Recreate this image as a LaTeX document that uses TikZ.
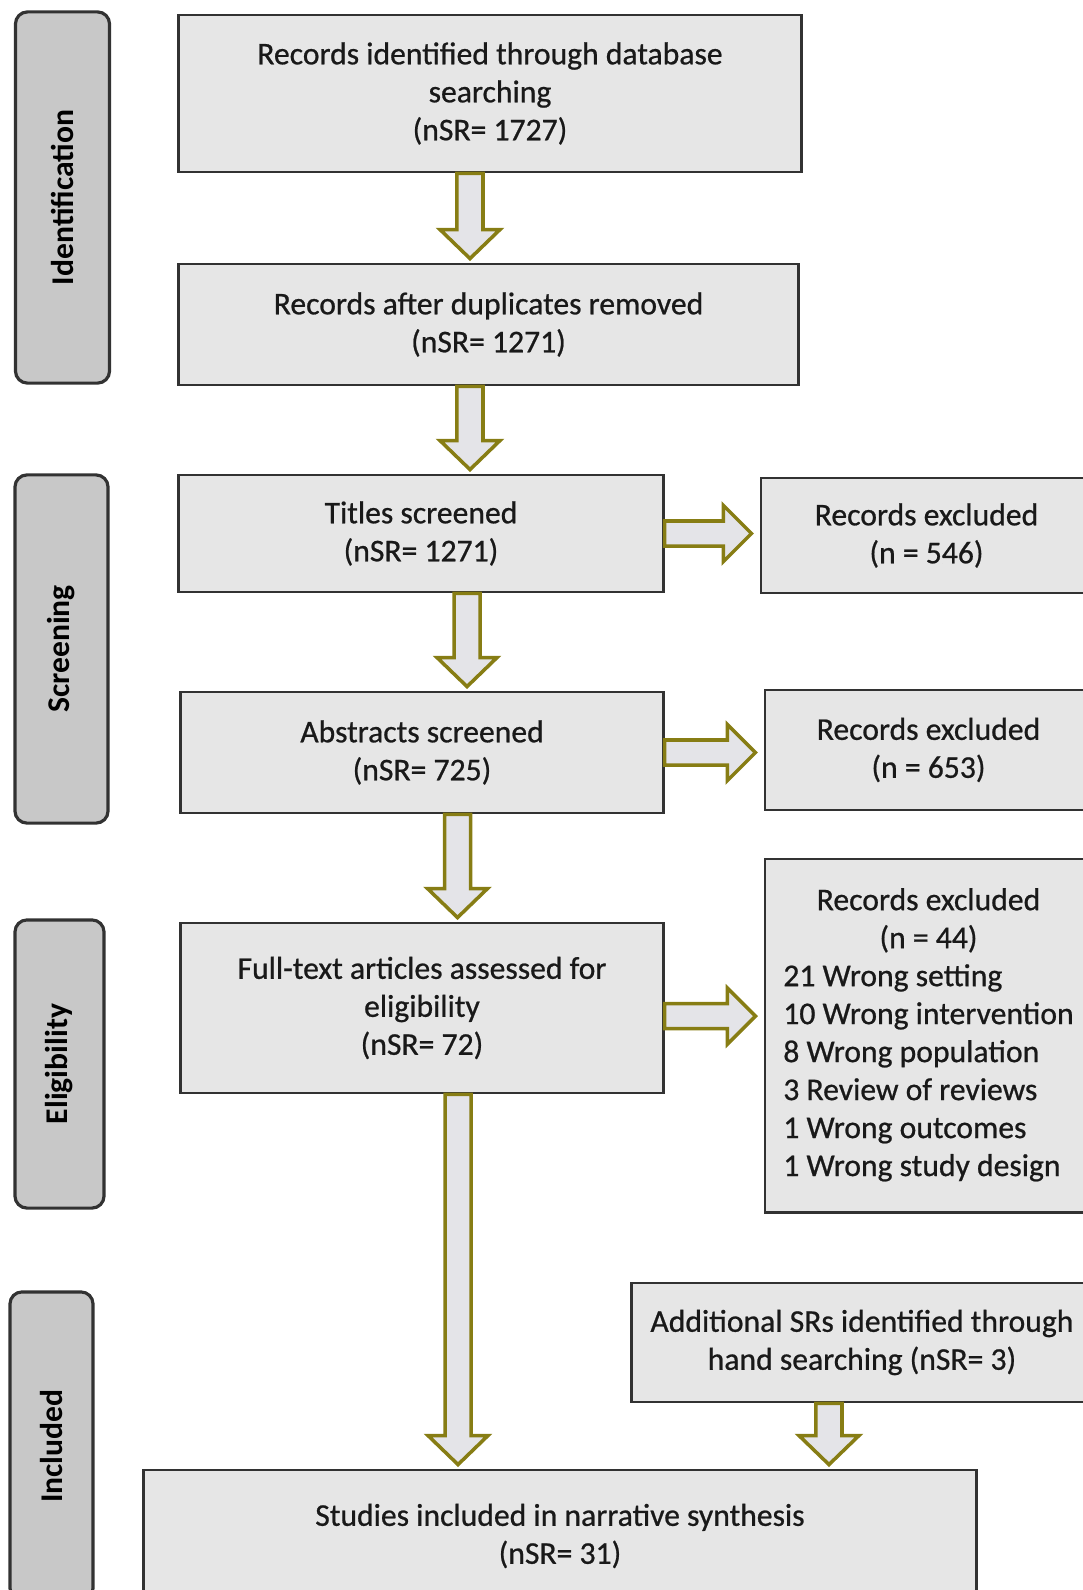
\documentclass[tikz,border=0pt]{standalone}
\usepackage{fontspec}
\setmainfont{Carlito}
\newfontfamily\boxfont{Carlito}[FakeBold=0.7]
\definecolor{boxgray}{RGB}{230,230,230}
\definecolor{phasegray}{RGB}{200,200,200}
\definecolor{edgegray}{RGB}{50,50,50}
\definecolor{arrowolive}{RGB}{135,125,20}
\definecolor{arrowfill}{RGB}{228,228,232}
\usetikzlibrary{positioning, calc}

\tikzset{
  stagebox/.style={draw=edgegray, fill=boxgray, line width=0.8pt, align=center,
                   inner sep=2pt, text=black!90, font=\boxfont\fontsize{9}{10.8}\selectfont},
  phasebox/.style={draw=edgegray, fill=phasegray, line width=0.9pt, rotate=90,
                   rounded corners=0.12cm, font=\bfseries\fontsize{9}{10}\selectfont},
  blockarrow/.style={draw=arrowolive, fill=arrowfill, line width=1pt, line join=miter}
}

% downward block arrow: from node, to node, xshift of the shaft
\newcommand{\vblock}[3]{%
  \draw[blockarrow] let \p1=([xshift=#3]#1.south), \p2=(#2.north) in
    (\x1-0.13cm,\y1) -- (\x1-0.13cm,\y2+0.33cm) -- (\x1-0.30cm,\y2+0.33cm)
    -- (\x1,\y2+0.04cm) -- (\x1+0.30cm,\y2+0.33cm) -- (\x1+0.13cm,\y2+0.33cm)
    -- (\x1+0.13cm,\y1) -- cycle;}
% right block arrow: from node, to node, yshift of the shaft
\newcommand{\hblock}[3]{%
  \draw[blockarrow] let \p1=([yshift=#3]#1.east), \p2=(#2.west) in
    (\x1,\y1+0.125cm) -- (\x2-0.36cm,\y1+0.125cm) -- (\x2-0.36cm,\y1+0.28cm)
    -- (\x2-0.08cm,\y1) -- (\x2-0.36cm,\y1-0.28cm) -- (\x2-0.36cm,\y1-0.125cm)
    -- (\x1,\y1-0.125cm) -- cycle;}

\begin{document}
\begin{tikzpicture}[x=0.01cm, y=-0.01cm]
  \useasboundingbox (0,0) rectangle (1083,1590);
  \clip (0,0) rectangle (1083,1590);

  % Phase labels
  \node[phasebox, minimum width=3.71cm, minimum height=0.94cm] (ident) at (62.5,197.5) {Identification};
  \node[phasebox, minimum width=3.48cm, minimum height=0.93cm] (screen) at (61.5,649) {Screening};
  \node[phasebox, minimum width=2.88cm, minimum height=0.89cm] (elig) at (59.5,1064) {Eligibility};
  \node[phasebox, minimum width=3.08cm, minimum height=0.83cm] (incl) at (51.5,1446) {Included};

  % Main column
  \node[stagebox, minimum width=6.22cm, minimum height=1.57cm] (records) at (490,93.5)
       {Records identified through database\\searching\\(nSR= 1727)};
  \node[stagebox, minimum width=6.19cm, minimum height=1.21cm] (dupl) at (488.5,324.5)
       {Records after duplicates removed\\(nSR= 1271)};
  \node[stagebox, minimum width=4.84cm, minimum height=1.17cm] (titles) at (421,533.5)
       {Titles screened\\(nSR= 1271)};
  \node[stagebox, minimum width=4.82cm, minimum height=1.21cm] (abstr) at (422,752.5)
       {Abstracts screened\\(nSR= 725)};
  \node[stagebox, minimum width=4.82cm, minimum height=1.70cm] (fulltext) at (422,1008)
       {Full-text articles assessed for\\eligibility\\(nSR= 72)};
  \node[stagebox, minimum width=8.32cm, minimum height=1.32cm] (studies) at (560,1536)
       {Studies included in narrative synthesis\\(nSR= 31)};

  % Exclusions and extra sources
  \node[stagebox, minimum width=3.31cm, minimum height=1.15cm] (exclA) at (926.5,535.5)
       {Records excluded\\(n = 546)};
  \node[stagebox, minimum width=3.27cm, minimum height=1.20cm] (exclB) at (928.5,750)
       {Records excluded\\(n = 653)};
  \node[stagebox, minimum width=3.27cm, minimum height=3.53cm] (exclC) at (928.5,1035.5)
       {\begin{tabular}{@{}l@{}}
          \multicolumn{1}{@{}c@{}}{Records excluded}\\
          \multicolumn{1}{@{}c@{}}{(n = 44)}\\
          21 Wrong setting\\
          10 Wrong intervention\\
          8 Wrong population\\
          3 Review of reviews\\
          1 Wrong outcomes\\
          1 Wrong study design
        \end{tabular}};
  \node[stagebox, minimum width=4.60cm, minimum height=1.19cm] (addl) at (862,1342.5)
       {Additional SRs identified through\\hand searching (nSR= 3)};

  % Arrows
  \vblock{records}{dupl}{-0.20cm}
  \vblock{dupl}{titles}{-0.185cm}
  \vblock{titles}{abstr}{0.46cm}
  \vblock{abstr}{fulltext}{0.355cm}
  \vblock{fulltext}{studies}{0.36cm}
  \vblock{addl}{studies}{-0.33cm}
  \hblock{titles}{exclA}{0cm}
  \hblock{abstr}{exclB}{0cm}
  \hblock{fulltext}{exclC}{-0.08cm}
\end{tikzpicture}
\end{document}
